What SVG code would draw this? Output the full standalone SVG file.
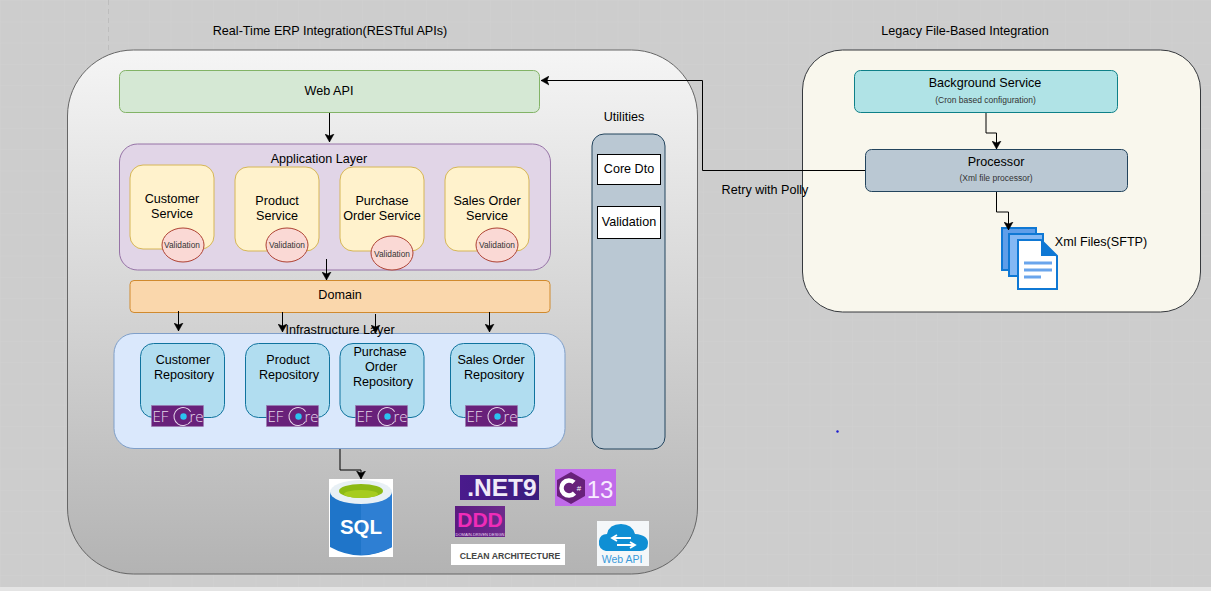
<svg xmlns="http://www.w3.org/2000/svg" width="1211" height="591" viewBox="0 0 1211 591">
<style>
text{font-family:"Liberation Sans",Arial,sans-serif;fill:#000;text-anchor:middle}
.t{font-size:12.6px}.s{font-size:8.500px;fill:#333}.v{font-size:8.300px;fill:#333}
.svc{fill:#fff2cc;stroke:#d6b656}.val{fill:#fad9d5;stroke:#ae4132}
.repo{fill:#b1ddf0;stroke:#10739e}
.c{fill:none;stroke:#000;stroke-width:1;marker-end:url(#a)}
</style>
<defs>
<marker id="a" markerWidth="10" markerHeight="10" refX="8" refY="5" orient="auto" markerUnits="userSpaceOnUse"><path d="M0,0.5L8,5L0,9.5L2,5Z" fill="#000" stroke="#000" stroke-width="0.5"/></marker>
<linearGradient id="g" x1="0" y1="0" x2="0" y2="1"><stop offset="0" stop-color="#f5f5f5"/><stop offset="1" stop-color="#b3b3b3"/></linearGradient>
<linearGradient id="net" x1="0" y1="0" x2="1" y2="0"><stop offset="0" stop-color="#4a1a8c"/><stop offset="1" stop-color="#3a1d7e"/></linearGradient>
<linearGradient id="ddd" x1="0" y1="0" x2="1" y2="0"><stop offset="0" stop-color="#5b1a80"/><stop offset="1" stop-color="#6d2a8c"/></linearGradient>
<pattern id="grid" width="21.3" height="21.3" patternUnits="userSpaceOnUse"><path d="M21.3,0H0V21.3" fill="none" stroke="#d1d1d1" stroke-width="1"/></pattern>
<symbol id="efcore" viewBox="0 0 52 21" overflow="visible">
<rect width="52" height="21" fill="#68217a" stroke="#9b7bb0" stroke-width="0.5"/>
<text x="9" y="16" font-size="15" style="font-family:'Open Sans',sans-serif;fill:#e6d8ea;font-weight:300">EF</text>
<circle cx="31.500" cy="11" r="9" fill="none" stroke="#e6d8ea" stroke-width="1" stroke-dasharray="46 10.500" transform="rotate(33 31.500 11)"/>
<circle cx="32" cy="11" r="3.200" fill="#2bc3f0"/>
<text x="45" y="16" font-size="15" style="font-family:'Open Sans',sans-serif;fill:#e6d8ea;font-weight:300">re</text>
</symbol>
</defs>
<rect width="1211" height="591" fill="#cdcdcd"/>
<rect width="1211" height="587" fill="url(#grid)"/>
<rect y="587" width="1211" height="4" fill="#e4e4e4"/>
<path d="M108.500 0V50" stroke="#bdbdbd" stroke-dasharray="5 4" fill="none"/>

<text class="t" x="330" y="35">Real-Time ERP Integration(RESTful APIs)</text>
<text class="t" x="965" y="35">Legacy File-Based Integration</text>

<g id="erp-container"><rect x="67.500" y="50" width="630" height="524" rx="66" fill="url(#g)" stroke="#666"/></g>
<g id="legacy-container"><rect x="802.500" y="50" width="398" height="262" rx="40" fill="#f9f7ed" stroke="#36393d"/></g>

<g id="web-api"><rect x="119.500" y="70.500" width="420" height="42" rx="6" fill="#d5e8d4" stroke="#82b366"/><text class="t" x="329" y="95">Web API</text></g>

<g id="application-layer"><rect x="119.500" y="144" width="431" height="126" rx="18" fill="#e1d5e7" stroke="#9673a6"/><text class="t" x="319" y="163">Application Layer</text></g>
<g id="customer-service"><rect class="svc" x="130" y="165" width="84" height="84" rx="13"/><text class="t" x="172" y="203">Customer</text><text class="t" x="172" y="218">Service</text><ellipse class="val" cx="183" cy="245" rx="21" ry="17"/><text class="v" x="182" y="248">Validation</text></g>
<g id="product-service"><rect class="svc" x="235" y="167" width="84" height="84" rx="13"/><text class="t" x="277" y="205">Product</text><text class="t" x="277" y="220">Service</text><ellipse class="val" cx="287" cy="245" rx="21" ry="17"/><text class="v" x="287" y="248">Validation</text></g>
<g id="purchase-order-service"><rect class="svc" x="340" y="167" width="84" height="84" rx="13"/><text class="t" x="382" y="205">Purchase</text><text class="t" x="382" y="220">Order Service</text><ellipse class="val" cx="392" cy="253" rx="21" ry="17"/><text class="v" x="392" y="257">Validation</text></g>
<g id="sales-order-service"><rect class="svc" x="445" y="167" width="84" height="84" rx="13"/><text class="t" x="487" y="205">Sales Order</text><text class="t" x="487" y="220">Service</text><ellipse class="val" cx="497" cy="245" rx="21" ry="17"/><text class="v" x="497" y="248">Validation</text></g>

<g id="domain"><rect x="130" y="280.500" width="420" height="32" rx="4" fill="#fad7ac" stroke="#d08a2e"/><text class="t" x="340" y="299">Domain</text></g>

<g id="infrastructure-layer"><rect x="114" y="333.500" width="451" height="115" rx="20" fill="#dae8fc" stroke="#7f9fc9"/><text class="t" x="340" y="334">Infrastructure Layer</text></g>
<g id="customer-repository"><rect class="repo" x="140.500" y="343.500" width="84" height="74" rx="13"/><text class="t" x="183" y="364">Customer</text><text class="t" x="184" y="379">Repository</text><use href="#efcore" x="151.500" y="405.500" width="52" height="21"/></g>
<g id="product-repository"><rect class="repo" x="245.500" y="343.500" width="84" height="74" rx="13"/><text class="t" x="288" y="364">Product</text><text class="t" x="289" y="379">Repository</text><use href="#efcore" x="266.500" y="405.500" width="52" height="21"/></g>
<g id="purchase-order-repository"><rect class="repo" x="340" y="343.500" width="84" height="74" rx="13"/><text class="t" x="380" y="356">Purchase</text><text class="t" x="381" y="371">Order</text><text class="t" x="383" y="386">Repository</text><use href="#efcore" x="355.500" y="405.500" width="52" height="21"/></g>
<g id="sales-order-repository"><rect class="repo" x="450.500" y="343.500" width="84" height="74" rx="13"/><text class="t" x="491" y="364">Sales Order</text><text class="t" x="494" y="379">Repository</text><use href="#efcore" x="465.500" y="405.500" width="52" height="21"/></g>

<g id="utilities"><text class="t" x="624" y="121">Utilities</text><rect x="592" y="134" width="73" height="315" rx="12" fill="#bac8d3" stroke="#23445d"/>
<rect x="597.500" y="154.500" width="63" height="30" fill="#fff" stroke="#000"/><text class="t" x="629" y="173">Core Dto</text>
<rect x="597.500" y="206.500" width="63" height="32" fill="#fff" stroke="#000"/><text class="t" x="629" y="226">Validation</text></g>

<g id="background-service"><rect x="854.500" y="70.500" width="263" height="42" rx="6" fill="#b0e3e6" stroke="#0e8088"/><text class="t" x="985" y="87">Background Service</text><text class="s" x="985.500" y="103">(Cron based configuration)</text></g>
<g id="processor"><rect x="865.500" y="149.500" width="262" height="42" rx="6" fill="#bac8d3" stroke="#23445d"/><text class="t" x="996" y="166">Processor</text><text class="s" x="996" y="181">(Xml file processor)</text></g>
<g id="xml-files">
<path d="M1002,228H1036V270H1002Z" fill="#5f9ee9" stroke="#0f78d4" stroke-width="2"/>
<path d="M1009,234H1043V276H1009Z" fill="#84b8f4" stroke="#0f78d4" stroke-width="2"/>
<path d="M1018,240H1041L1057,256V289H1018Z" fill="#fff" stroke="#0f78d4" stroke-width="2"/>
<path d="M1041,240L1057,256H1041Z" fill="#0f78d4"/>
<path d="M1024,263H1052M1024,270H1052M1024,277H1041" stroke="#6aa5ec" stroke-width="3" fill="none"/>
<text class="t" x="1101" y="246">Xml Files(SFTP)</text></g>

<g id="connectors">
<path class="c" d="M329.500 113V142"/>
<path class="c" d="M326.500 259V280"/>
<path class="c" d="M178.500 311V331"/>
<path class="c" d="M282.500 312V332"/>
<path class="c" d="M375.500 314V333"/>
<path class="c" d="M489.500 312V332"/>
<path class="c" d="M340 449V470H361V479"/>
<path class="c" d="M986 113V133H996.500V149"/>
<path class="c" d="M996.500 192V212H1008.500V230"/>
<path class="c" d="M865 170.500H702.500V80.500H541"/>
</g>
<text class="t" x="765" y="194">Retry with Polly</text>

<g id="sql-logo"><rect x="329" y="479" width="64" height="78" fill="#fff"/>
<path d="M330,492V547Q361,564 392,547V492Z" fill="#1f75c9"/><path d="M361,499V555Q380,554 392,547V492Z" fill="#2e7fd3"/>
<ellipse cx="361" cy="492" rx="31" ry="12" fill="#e8f0f5"/><ellipse cx="361" cy="491" rx="22" ry="7" fill="#8cba14"/><ellipse cx="361" cy="494" rx="17" ry="4" fill="#a6cc1e"/>
<text x="361" y="534" font-size="20.500" font-weight="bold" style="fill:#fff">SQL</text></g>
<g id="net-logo"><rect x="460" y="475" width="79" height="25" fill="url(#net)"/><text x="502" y="496" font-size="24.500" font-weight="bold" style="fill:#f0eaf8">.NET9</text></g>
<g id="csharp-logo"><rect x="555" y="469" width="61" height="37" fill="#c06bea"/><path d="M571,472L585,480V496L571,504L557,496V480Z" fill="#68217a"/><circle cx="569" cy="488" r="7.500" fill="none" stroke="#fff" stroke-width="4.500" stroke-dasharray="35 12" transform="rotate(43 569 488)"/>
<text x="579" y="491" font-size="8" style="fill:#fff">#</text>
<text x="600" y="498" font-size="24" style="fill:#f7ecff">13</text></g>
<g id="ddd-logo"><rect x="455" y="506" width="50" height="31" fill="url(#ddd)"/><text x="480" y="527" font-size="21" font-weight="bold" style="fill:#f02cb8">DDD</text><text x="480" y="535.500" font-size="4" style="fill:#e8d8f0">DOMAIN-DRIVEN DESIGN</text></g>
<g id="clean-logo"><rect x="451" y="544" width="114" height="21" fill="#fff"/><text x="510" y="559" font-size="8.700" font-weight="bold" style="fill:#444">CLEAN ARCHITECTURE</text></g>
<g id="webapi-logo"><rect x="597" y="521" width="52" height="45" fill="#f4f7f9"/><path d="M606,551Q598,549 599,541Q600,534 607,534Q609,524 621,524Q632,524 635,534Q648,535 648,543Q648,551 640,551Z" fill="#0f8fd4"/><path d="M613,538H631M617,535L612,538L617,541M617,545H635M630,542L635,545L630,548" fill="none" stroke="#fff" stroke-width="1.800"/><text x="622" y="563" font-size="10.500" style="fill:#3a9ad9">Web API</text></g>
<circle cx="837.500" cy="431.500" r="1.200" fill="#1a1ad0"/>
</svg>
